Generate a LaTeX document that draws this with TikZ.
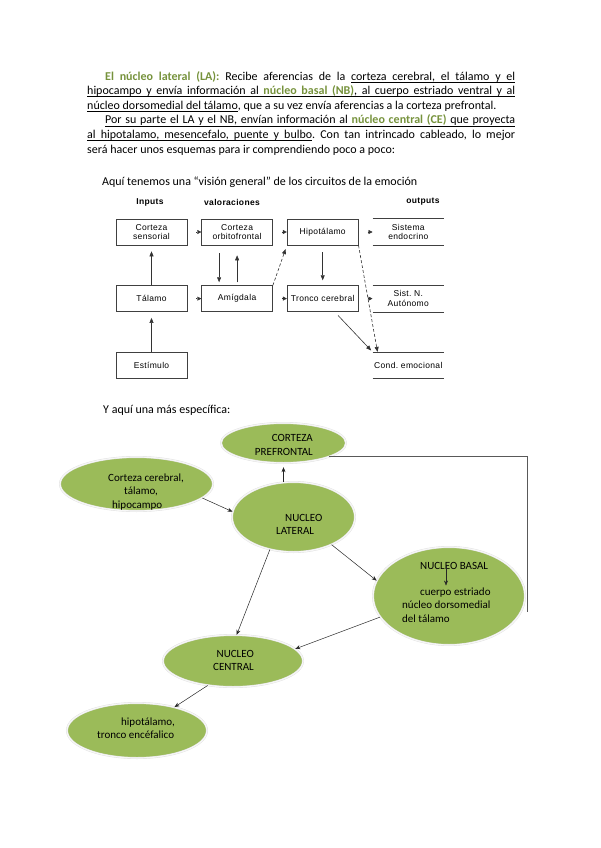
\documentclass[tikz,border=0pt]{standalone}
\usepackage{fontspec}
\setmainfont{Carlito}
\newfontfamily\schemefont[LetterSpace=4]{Liberation Sans}
\usetikzlibrary{arrows.meta, positioning, shapes.geometric}
\definecolor{leafgreen}{HTML}{9BBB59}
\definecolor{titlegreen}{HTML}{76923C}
\frenchspacing

% underlined words with stretchable underlined spaces
\newcommand\ulbox[1]{\sbox0{#1}\rlap{\rule[-2.2pt]{\wd0}{0.5pt}}\usebox0}
\newcommand\ulgap{\leaders\hrule height -1.7pt depth 2.2pt\hskip\fontdimen2\font plus\fontdimen3\font minus\fontdimen4\font}
\ExplSyntaxOn
\NewDocumentCommand\ulspan{m}
 {
  \seq_set_split:Nnn \l_tmpa_seq { ~ } {#1}
  \bool_set_true:N \l_tmpa_bool
  \seq_map_inline:Nn \l_tmpa_seq
   {
    \bool_if:NF \l_tmpa_bool { \ulgap }
    \bool_set_false:N \l_tmpa_bool
    \ulbox{##1}
   }
 }
\ExplSyntaxOff

\begin{document}
\begin{tikzpicture}[x=1pt, y=-1pt,
    node distance=40pt and 14pt,
    para/.style={text width=428pt, align=justify, inner sep=0pt, font=\fontsize{12}{14.6}\selectfont},
    lead/.style={inner sep=0pt, anchor=west, font=\fontsize{12}{14}\selectfont},
    colhead/.style={inner sep=0pt, font=\schemefont\bfseries\fontsize{8.5}{9}\selectfont},
    box/.style={draw=black!75, line width=0.6pt, minimum width=71pt, minimum height=26pt, inner sep=1pt, align=center, font=\schemefont\fontsize{8.5}{9.5}\selectfont},
    outbox/.style={box, draw=none, append after command={(\tikzlastnode.north west) edge (\tikzlastnode.north east) (\tikzlastnode.south west) edge (\tikzlastnode.south east)}},
    every edge/.append style={draw=black!75, line width=0.6pt},
    headonly/.style={-{Triangle[length=4pt, width=4pt]}, black!80, shorten <=9pt},
    flow/.style={-{Triangle[length=5pt, width=4pt]}, black!80, line width=0.6pt},
    leaf/.style={ellipse, fill=leafgreen, draw=black!12, double=black!3, double distance=1.2pt, inner sep=0pt},
    leaftext/.style={inner sep=0pt, align=left, font=\fontsize{11}{13.4}\selectfont},
    arrow/.style={-{Stealth[length=5pt, width=4pt]}, black!85, line width=0.5pt}
]
\useasboundingbox (0,0) rectangle (600,848);

% --- Texto ---
\node[para, anchor=north west] (intro) at (87,71) {%
\hspace*{18pt}{\color{titlegreen}\bfseries El núcleo lateral (LA):} Recibe aferencias de la \ulspan{corteza cerebral, el tálamo y el}\linebreak
\ulspan{hipocampo y envía información al {\color{titlegreen}\bfseries núcleo} {\color{titlegreen}\bfseries basal} {\color{titlegreen}\bfseries (NB)}, al cuerpo estriado ventral y al}\linebreak
\ulspan{núcleo dorsomedial del tálamo}, que a su vez envía aferencias a la corteza prefrontal.\par
\hspace*{18pt}\ulspan{Por su parte el LA y el NB, envían información al {\color{titlegreen}\bfseries núcleo} {\color{titlegreen}\bfseries central} {\color{titlegreen}\bfseries (CE)} que proyecta}\linebreak
\ulspan{al hipotalamo, mesencefalo, puente y bulbo}. Con tan intrincado cableado, lo mejor\linebreak
será hacer unos esquemas para ir comprendiendo poco a poco:};

\node[lead] (general) at (102,182) {Aquí tenemos una “visión general” de los circuitos de la emoción};

% --- Esquema general ---
\node[colhead] (inputs) at (150,202) {Inputs};
\node[colhead] (valor) at (232,202) {valoraciones};
\node[colhead] (outputs) at (423,202) {outputs};

\node[box] (sens) at (151.5,232) {Corteza\\sensorial};
\node[box, right=of sens] (orbi) {Corteza\\orbitofrontal};
\node[box, right=of orbi] (hipo) {Hipotálamo};
\node[outbox, right=of hipo] (endo) {Sistema\\endocrino};

\node[box, below=of sens] (tala) {Tálamo};
\node[box, below=of orbi] (amig) {Amígdala};
\node[box, below=of hipo] (tron) {Tronco cerebral};
\node[outbox, below=of endo] (auto) {Sist. N.\\Autónomo};

\node[box, below=of tala] (estim) {Estímulo};
\node[outbox, below=of auto] (cond) {Cond. emocional};

\draw[headonly] (sens) -- (orbi);
\draw[headonly] (orbi) -- (hipo);
\draw[headonly] (hipo) -- (endo);
\draw[headonly] (tala) -- (amig);
\draw[headonly] (amig) -- (tron);
\draw[headonly] (tron) -- (auto);

\draw[flow, shorten >=6pt] (tala) -- (sens);
\draw[flow, shorten >=6pt] (estim) -- (tala);
\draw[flow, shorten <=8pt, shorten >=3pt] ([xshift=-18pt]orbi.south) -- ([xshift=-18pt]amig.north);
\draw[flow, shorten <=3pt, shorten >=10pt] (amig) -- (orbi);
\draw[flow, shorten <=7pt, shorten >=5pt] (hipo) -- (tron);
\draw[flow, dash pattern=on 3pt off 2pt, shorten >=4pt] (amig.north east) -- (hipo.south west);
\draw[flow, dash pattern=on 3pt off 2pt] (hipo.south east) -- ([xshift=5pt]cond.north west);
\draw[flow, shorten <=5pt, shorten >=2pt] ([xshift=12pt]tron.south) -- (cond.north west);

% --- Esquema especifico ---
\node[lead] (specific) at (103,410) {Y aquí una más específica:};

\node[leaf, minimum width=125pt, minimum height=40pt] (cpf) at (283.5,443) {};
\node[leaf, minimum width=153pt, minimum height=54pt] (ccer) at (136.5,484) {};
\node[leaf, minimum width=123pt, minimum height=70pt] (nlat) at (293.5,517) {};
\node[leaf, minimum width=152pt, minimum height=98pt] (nbas) at (449,596) {};
\node[leaf, minimum width=140pt, minimum height=52pt] (ncen) at (233,661) {};
\node[leaf, minimum width=140pt, minimum height=55pt] (hipt) at (137,730.5) {};

\node[leaftext, align=right, anchor=east] (cpftxt) at (313,445) {CORTEZA\\PREFRONTAL};
\node[leaftext, anchor=west] (ccertxt) at (108,492) {Corteza cerebral,\\\hspace*{16pt}tálamo,\\\hspace*{4pt}hipocampo};
\node[leaftext, anchor=west] (nlattxt) at (276,524.5) {\hspace*{9pt}NUCLEO\\LATERAL};
\node[leaftext, anchor=west] (nbtitle) at (420,566) {NUCLEO BASAL};
\node[leaftext, anchor=west] (nbtext) at (402,605) {\hspace*{18pt}cuerpo estriado\\núcleo dorsomedial\\del tálamo};
\node[leaftext, align=right, anchor=east] (ncentxt) at (254,660.5) {NUCLEO\\CENTRAL};
\node[leaftext, anchor=west] (hipttxt) at (97,728.5) {\hspace*{24pt}hipotálamo,\\tronco encéfalico};

\coordinate (cpfend) at (527,612);

\draw[arrow] (ccer.-12) -- (nlat.175);
\draw[arrow, shorten >=4pt] (nlat.north -| cpf.south) -- (cpf.south);
\draw[black!65, line width=0.9pt] (cpf.-17) -| (cpfend);
\draw[arrow] (nlat.-36) -- (nbas.168);
\draw[arrow] (nlat.234) -- (ncen.82);
\draw[arrow] (nbas.197) -- (ncen.11);
\draw[arrow] (ncen.224) -- (hipt.32);
\draw[arrow, shorten >=2pt] ([xshift=26pt]nbtitle.west) -- ([xshift=26pt]nbtitle.west |- nbtext.north);

\end{tikzpicture}
\end{document}
